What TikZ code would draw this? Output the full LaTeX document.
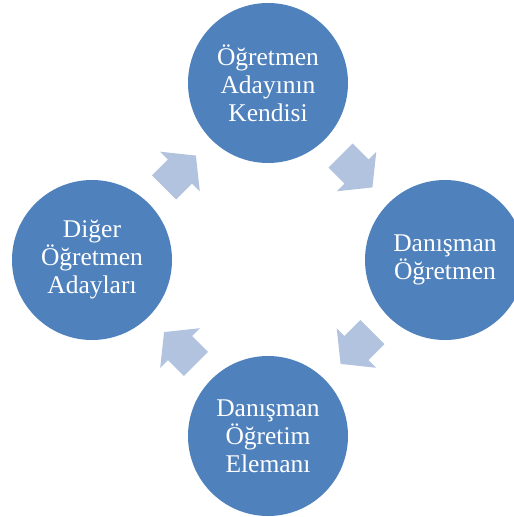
\documentclass[tikz,border=0pt]{standalone}
\usepackage{fontspec}
\setmainfont{Liberation Serif}
\usetikzlibrary{calc}
\definecolor{circblue}{RGB}{79,129,189}
\definecolor{arrowblue}{RGB}{178,195,224}
\begin{document}
\begin{tikzpicture}[x=1pt,y=-1pt,
  stage/.style={circle, fill=circblue, draw=none, minimum size=160pt, inner sep=0pt,
    text=white, align=center, font=\fontsize{25.5}{28}\selectfont},
  blockarrow/.style={fill=arrowblue, draw=none}]
\useasboundingbox (0,0) rectangle (514,517);
\clip (0,0) rectangle (514,517);
\node[stage] (top) at (268,83) {Öğretmen\\Adayının\\Kendisi};
\node[stage] (right) at (445,260) {Danışman\\Öğretmen};
\node[stage] (bottom) at (268,436) {Danışman\\Öğretim\\Elemanı};
\node[stage] (left) at (92,260) {Diğer\\Öğretmen\\Adayları};
\coordinate (m1) at ($(left)!0.5!(top)$);
\coordinate (m2) at ($(top)!0.5!(right)$);
\coordinate (m3) at ($(right)!0.5!(bottom)$);
\coordinate (m4) at ($(bottom)!0.5!(left)$);
\foreach \m/\a in {m1/45, m2/-45, m3/-135, m4/135}{
  \fill[blockarrow, shift={(\m)}, rotate=\a]
    (-22.5,-17) -- (0,-17) -- (0,-28) -- (22.5,0) -- (0,28) -- (0,17) -- (-22.5,17) -- cycle;
}
\end{tikzpicture}
\end{document}
